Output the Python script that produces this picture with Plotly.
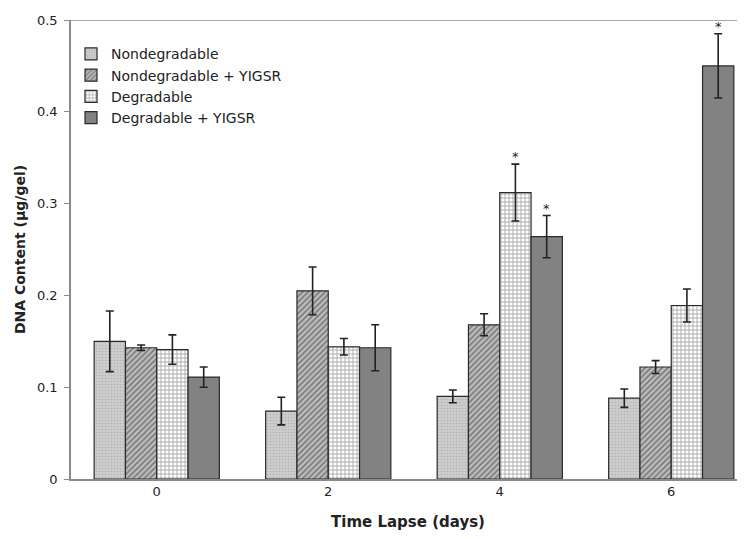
import plotly.graph_objects as go

days = ["0", "2", "4", "6"]
series_names = ["Nondegradable", "Nondegradable + YIGSR", "Degradable", "Degradable + YIGSR"]
nondeg = [0.150, 0.074, 0.090, 0.088]
nondeg_err = [0.033, 0.015, 0.007, 0.010]
nondeg_yigsr = [0.143, 0.205, 0.168, 0.122]
nondeg_yigsr_err = [0.003, 0.026, 0.012, 0.007]
deg = [0.141, 0.144, 0.312, 0.189]
deg_err = [0.016, 0.009, 0.031, 0.018]
deg_yigsr = [0.111, 0.143, 0.264, 0.450]
deg_yigsr_err = [0.011, 0.025, 0.023, 0.035]
# significance markers: (series index, group index)
signif = [(2, 2), (3, 2), (3, 3)]

values = [nondeg, nondeg_yigsr, deg, deg_yigsr]
errors = [nondeg_err, nondeg_yigsr_err, deg_err, deg_yigsr_err]

x = list(range(len(days)))
bargap = 0.27
bar_w = (1 - bargap) / 4

styles = [
    dict(color="#c9c9c9", pattern=dict(shape=".", fgcolor="#9a9a9a", bgcolor="#cdcdcd", size=3, solidity=0.25)),
    dict(color="#b5b5b5", pattern=dict(shape="/", fgcolor="#333333", bgcolor="#bdbdbd", size=4, solidity=0.4)),
    dict(color="#ffffff", pattern=dict(shape="+", fgcolor="#444444", bgcolor="#ffffff", size=4, solidity=0.38)),
    dict(color="#828282"),
]

fig = go.Figure()
for i, (name, v, e) in enumerate(zip(series_names, values, errors)):
    fig.add_trace(go.Bar(
        x=x, y=v, name=name,
        marker=dict(line=dict(color="#2a2a2a", width=1.2), **styles[i]),
        error_y=dict(type="data", array=e, visible=True, color="#222222", thickness=1.6, width=4),
    ))

for si, gi in signif:
    xpos = gi + (si - 1.5) * bar_w
    fig.add_annotation(x=xpos, y=values[si][gi] + errors[si][gi], text="*",
                       showarrow=False, yanchor="bottom", yshift=-2,
                       font=dict(family="DejaVu Sans", size=13, color="#222"))

fig.add_shape(type="line", xref="paper", yref="y", x0=0, x1=1, y0=0.5, y1=0.5,
              line=dict(color="#8a8a8a", width=1.5))

fig.update_layout(
    width=737, height=531,
    margin=dict(l=63, r=0, t=12, b=60, autoexpand=False),
    paper_bgcolor="white", plot_bgcolor="white",
    barmode="group", bargap=bargap, bargroupgap=0,
    font=dict(family="DejaVu Sans", size=13, color="#222"),
    legend=dict(x=0.0, y=0.96, xanchor="left", yanchor="top",
                bgcolor="rgba(0,0,0,0)", font=dict(size=14, color="#222"),
                itemwidth=30),
    showlegend=True,
)
fig.update_xaxes(
    range=[-0.5, 3.43], tickvals=x, ticktext=days,
    showline=True, linecolor="#8a8a8a", linewidth=1.5, ticks="",
    showgrid=False, zeroline=False, automargin=False,
    tickfont=dict(size=13, color="#222"),
    title=dict(text="<b>Time Lapse (days)</b>", font=dict(size=15, color="#222"), standoff=18),
)
fig.update_yaxes(
    range=[0, 0.5], tickvals=[0, 0.1, 0.2, 0.3, 0.4, 0.5],
    ticktext=["0", "0.1", "0.2", "0.3", "0.4", "0.5"],
    showline=True, linecolor="#8a8a8a", linewidth=1.5,
    ticks="outside", ticklen=5, tickcolor="#8a8a8a", ticklabelstandoff=4,
    showgrid=False, zeroline=False, automargin=False,
    tickfont=dict(size=13, color="#222"),
    title=dict(text="<b>DNA Content (μg/gel)</b>", font=dict(size=14, color="#222"), standoff=8),
)

fig.write_html("out.html")
